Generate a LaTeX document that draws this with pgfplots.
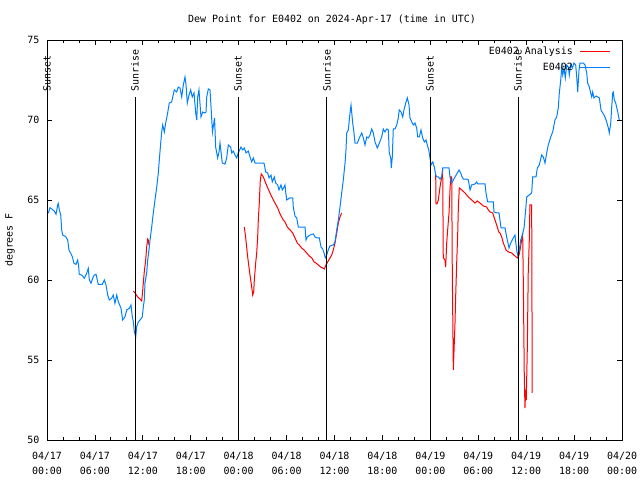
\documentclass[border=0pt]{standalone}
\usepackage{fontspec}
\setmainfont{DejaVu Sans Mono}
\usepackage{pgfplots}
\pgfplotsset{compat=1.18}
\definecolor{dpblue}{RGB}{0,128,255}
\begin{document}
\begin{tikzpicture}
\useasboundingbox (0,0) rectangle (640bp,480bp);
\begin{axis}[
  at={(47bp,40bp)}, anchor=south west,
  width=575bp, height=400bp, scale only axis,
  xmin=0, xmax=72, ymin=50, ymax=75,
  xtick={0,6,...,72},
  xticklabels={04/17\\00:00,04/17\\06:00,04/17\\12:00,04/17\\18:00,04/18\\00:00,04/18\\06:00,04/18\\12:00,04/18\\18:00,04/19\\00:00,04/19\\06:00,04/19\\12:00,04/19\\18:00,04/20\\00:00},
  minor x tick num=2,
  ytick={50,55,...,75},
  tick align=inside,
  major tick length=5bp, minor tick length=3bp,
  tick style={black, line width=0.8bp},
  axis line style={black, line width=0.8bp},
  /pgf/number format/assume math mode=true,
  tick label style={font=\fontsize{10}{15}\selectfont},
  xticklabel style={align=center, yshift=-9bp},
  yticklabel style={xshift=-4bp},
  ylabel={degrees F},
  ylabel style={at={(axis description cs:-0.0643,0.5)}, anchor=center, font=\fontsize{10}{12}\selectfont},
  title={Dew Point for E0402 on 2024-Apr-17 (time in UTC)},
  title style={at={(axis description cs:0.5,1)}, anchor=center, yshift=14bp, xshift=-2.5bp, font=\fontsize{10}{12}\selectfont},
  unbounded coords=jump,
  legend cell align=right,
  legend plot pos=right,
  legend image code/.code={\draw[mark repeat=2,mark phase=2,#1] plot coordinates {(0bp,0bp) (15bp,0bp) (30bp,0bp)};},
  legend style={at={(axis description cs:1,1)}, anchor=north east, xshift=-11bp, yshift=-5bp,
    draw=none, fill=none, inner sep=0pt, row sep=3bp,
    font=\fontsize{10}{12}\selectfont,
    /tikz/every odd column/.append style={column sep=5bp}},
  after end axis/.code={
    \begin{scope}[every node/.style={rotate=90, anchor=west, inner sep=0pt, font=\fontsize{10}{12}\selectfont}]
    \node at (axis cs:0,71.75) {Sunset};
    \node at (axis cs:11.02,71.75) {Sunrise};
    \node at (axis cs:23.92,71.75) {Sunset};
    \node at (axis cs:35.06,71.75) {Sunrise};
    \node at (axis cs:47.96,71.75) {Sunset};
    \node at (axis cs:58.98,71.75) {Sunrise};
    \end{scope}
  },
]
% E0402 Analysis (red)
\addplot[color=red, line width=1bp] coordinates {
(10.81,59.31) (11.02,59.19) (11.36,58.94) (11.65,58.81) (11.86,58.69) (11.93,59.06) (12.06,59.81) (12.18,60.50) (12.36,61.25) (12.48,62.06) (12.61,62.56) (12.68,62.50) (12.77,62.19)
(18,nan)
(24.71,63.31) (24.88,62.63) (25.01,62.00) (25.13,61.44) (25.29,60.81) (25.42,60.31) (25.63,59.56) (25.76,59.06) (25.88,59.25) (25.96,60.00) (26.13,61.06) (26.26,61.69) (26.38,62.69) (26.46,63.75) (26.58,64.81) (26.71,66.25) (26.83,66.63) (27.09,66.44) (27.39,66.06) (27.64,65.75) (27.92,65.44) (28.21,65.13) (28.55,64.81) (28.89,64.50) (29.18,64.13) (29.59,63.75) (29.80,63.63) (30.09,63.31) (30.43,63.13) (30.77,62.94) (31.05,62.63) (31.34,62.31) (31.59,62.19) (31.89,62.00) (32.18,61.88) (32.52,61.69) (32.85,61.50) (33.15,61.38) (33.43,61.13) (33.68,61.06) (33.97,60.94) (34.27,60.81) (34.52,60.75) (34.72,60.69) (34.94,60.94) (35.15,61.13) (35.44,61.38) (35.65,61.56) (35.85,61.88) (36.06,62.31) (36.28,62.94) (36.48,63.56) (36.69,63.94) (36.90,64.19)
(42,nan)
(48.67,66.63) (48.71,64.75) (48.83,64.75) (49.00,65.00) (49.21,65.81) (49.42,66.44) (49.55,66.69) (49.62,61.38) (49.83,61.25) (49.92,60.81) (50.05,62.31) (50.17,63.13) (50.34,64.19) (50.46,65.63) (50.55,66.44) (50.68,66.44) (50.75,60.44) (50.88,54.38) (51.00,56.06) (51.09,57.31) (51.17,58.94) (51.30,61.06) (51.43,62.94) (51.51,64.56) (51.63,65.75) (51.93,65.63) (52.34,65.44) (52.76,65.19) (53.18,65.00) (53.59,64.81) (53.88,64.94) (54.22,64.81) (54.63,64.63) (55.06,64.56) (55.26,64.38) (55.47,64.25) (55.81,64.19) (55.97,63.94) (56.22,63.56) (56.39,63.31) (56.56,63.00) (56.72,62.94) (56.94,62.69) (57.14,62.31) (57.48,61.88) (57.77,61.75) (58.19,61.69) (58.60,61.50) (58.89,61.38) (59.10,61.56) (59.23,61.88) (59.44,62.50) (59.56,62.94) (59.64,60.00) (59.76,54.19) (59.85,52.00) (59.94,53.13) (60.01,52.50) (60.14,55.63) (60.19,57.69) (60.26,60.44) (60.39,62.50) (60.47,64.69) (60.69,64.69) (60.76,52.94)
};
\addlegendentry{E0402 Analysis}
% E0402 (blue)
\addplot[color=dpblue, line width=1bp] coordinates {
(0.16,64.17) (0.38,64.52) (0.59,64.44) (0.91,64.31) (1.13,64.11) (1.34,64.69) (1.41,64.79) (1.54,64.38) (1.72,64.06) (1.84,63.13) (1.97,62.81) (2.34,62.71) (2.59,62.50) (2.75,61.88) (2.97,61.67) (3.17,61.46) (3.38,61.04) (3.63,60.98) (3.84,61.25) (3.97,60.83) (4.04,60.36) (4.35,60.31) (4.67,60.11) (4.97,60.42) (5.17,60.73) (5.30,60.00) (5.51,59.79) (5.72,60.11) (5.92,60.31) (6.14,60.36) (6.42,59.73) (6.92,59.73) (7.18,60.00) (7.39,59.69) (7.60,59.06) (7.80,58.75) (8.10,58.86) (8.30,59.06) (8.51,58.54) (8.73,59.06) (8.93,58.64) (9.27,58.23) (9.48,57.50) (9.77,57.71) (9.98,58.13) (10.31,58.23) (10.52,58.44) (10.68,57.71) (10.81,57.39) (10.93,56.77) (11.11,56.46) (11.23,57.08) (11.43,57.36) (11.65,57.50) (11.93,57.69) (12.06,58.31) (12.18,58.75) (12.27,59.81) (12.48,60.44) (12.61,61.25) (12.77,61.88) (12.90,62.50) (13.11,63.31) (13.31,64.19) (13.52,65.00) (13.74,65.81) (13.94,66.69) (14.06,67.50) (14.24,68.56) (14.36,69.25) (14.49,69.69) (14.69,69.25) (14.86,69.81) (15.11,70.44) (15.31,71.06) (15.61,71.13) (15.94,71.88) (16.24,71.75) (16.44,72.06) (16.65,72.00) (16.87,71.44) (17.07,72.19) (17.28,72.69) (17.41,72.19) (17.57,71.06) (17.78,71.56) (17.99,71.88) (18.19,71.44) (18.41,71.69) (18.62,70.44) (18.75,70.00) (18.87,71.44) (19.03,71.88) (19.28,70.19) (19.50,70.50) (19.78,70.44) (19.91,70.50) (20.00,71.44) (20.20,71.94) (20.41,71.88) (20.54,70.81) (20.72,69.25) (20.98,70.13) (21.12,68.31) (21.37,67.63) (21.54,68.00) (21.66,68.56) (21.95,67.31) (22.29,67.25) (22.50,67.63) (22.70,68.44) (23.00,68.31) (23.13,67.94) (23.33,68.06) (23.54,67.81) (23.75,67.63) (23.95,67.94) (24.29,68.31) (24.51,68.13) (24.71,68.25) (24.92,67.94) (25.21,68.06) (25.42,67.69) (25.63,67.38) (25.83,67.63) (26.05,67.31) (26.33,67.31) (26.67,67.31) (26.88,67.31) (27.17,67.31) (27.39,66.75) (27.64,66.69) (27.80,66.38) (28.05,66.56) (28.21,66.13) (28.46,66.44) (28.64,66.06) (28.89,65.94) (29.05,65.63) (29.30,65.94) (29.46,65.63) (29.68,65.81) (29.80,65.94) (29.89,65.50) (30.02,65.00) (30.43,65.13) (30.77,65.13) (30.84,64.56) (31.05,64.00) (31.27,63.88) (31.47,63.31) (32.31,63.31) (32.43,62.50) (32.59,62.69) (32.93,62.81) (33.35,62.88) (33.56,62.69) (33.77,62.63) (34.10,62.63) (34.31,62.06) (34.52,61.94) (34.69,61.69) (34.85,61.38) (35.02,61.56) (35.22,61.88) (35.44,62.13) (35.85,62.19) (36.06,62.38) (36.28,63.13) (36.48,63.75) (36.69,64.56) (36.90,65.44) (37.10,66.25) (37.32,67.31) (37.44,68.13) (37.53,69.19) (37.73,69.38) (37.94,70.44) (38.07,70.94) (38.15,70.50) (38.28,69.81) (38.44,69.19) (38.57,68.56) (38.86,68.56) (39.11,68.88) (39.41,69.19) (39.61,68.88) (39.82,68.44) (40.03,68.94) (40.23,68.88) (40.45,69.06) (40.66,69.44) (40.86,69.19) (41.07,68.63) (41.36,68.25) (41.61,68.56) (41.91,68.94) (42.11,69.44) (42.32,69.25) (42.54,69.44) (42.74,69.38) (42.86,67.94) (43.04,67.63) (43.11,67.00) (43.24,67.69) (43.36,69.44) (43.58,69.44) (43.79,69.69) (43.99,70.13) (44.11,70.63) (44.33,70.50) (44.54,70.19) (44.70,70.63) (44.92,71.06) (45.12,71.38) (45.33,70.94) (45.45,70.13) (45.67,69.88) (45.87,69.69) (46.08,69.81) (46.29,69.50) (46.42,68.94) (46.62,68.94) (46.83,69.38) (47.04,68.88) (47.25,68.63) (47.46,68.75) (47.62,68.44) (47.80,68.13) (47.96,67.63) (48.08,67.19) (48.30,67.38) (48.50,67.06) (48.67,66.56) (48.80,66.44) (49.00,66.44) (49.21,66.31) (49.42,66.44) (49.55,67.00) (50.05,67.00) (50.34,67.00) (50.46,66.44) (50.68,66.06) (50.88,66.25) (51.09,66.44) (51.38,66.69) (51.59,66.88) (51.80,66.69) (51.93,66.50) (52.13,66.31) (52.56,66.31) (52.76,66.25) (52.97,65.63) (53.18,65.94) (53.59,66.00) (53.81,66.13) (53.93,66.00) (54.85,66.00) (54.97,65.44) (55.18,64.88) (55.89,64.88) (55.97,64.25) (56.39,64.19) (56.60,64.19) (56.72,63.75) (56.85,63.25) (57.35,63.25) (57.56,62.69) (57.85,62.00) (58.06,62.31) (58.39,62.63) (58.60,62.81) (58.81,61.88) (58.94,61.56) (59.10,61.75) (59.32,62.50) (59.52,62.81) (59.73,63.25) (59.94,64.38) (60.07,65.19) (60.69,65.44) (60.82,66.44) (61.23,66.44) (61.40,67.00) (61.64,67.19) (61.94,67.81) (62.15,67.69) (62.36,67.31) (62.57,67.94) (62.77,68.44) (63.07,68.94) (63.32,69.25) (63.61,70.00) (63.82,70.19) (64.02,70.75) (64.15,71.69) (64.33,72.50) (64.45,73.31) (64.58,72.81) (64.74,73.25) (64.90,72.63) (65.08,73.44) (65.28,73.31) (65.40,72.81) (65.58,73.44) (65.78,73.25) (65.99,73.56) (66.20,73.44) (66.33,72.69) (66.45,71.75) (66.62,73.13) (66.74,73.56) (67.16,73.56) (67.37,73.44) (67.58,72.94) (67.70,72.31) (67.91,72.06) (68.08,71.69) (68.21,71.44) (68.33,71.75) (68.49,71.38) (68.75,71.50) (68.96,71.44) (69.16,71.38) (69.37,70.63) (69.58,70.44) (69.75,70.31) (69.91,70.13) (70.08,69.88) (70.29,69.50) (70.41,69.19) (70.59,69.81) (70.71,70.81) (70.84,71.69) (70.91,71.75) (71.04,71.25) (71.21,71.06) (71.41,70.63) (71.54,70.31) (71.66,70.00)
};
\addlegendentry{E0402}
% Sunrise / sunset markers
\addplot[black, line width=1bp, forget plot] coordinates {(11.02,50) (11.02,71.44)};
\addplot[black, line width=1bp, forget plot] coordinates {(23.92,50) (23.92,71.44)};
\addplot[black, line width=1bp, forget plot] coordinates {(35.06,50) (35.06,71.44)};
\addplot[black, line width=1bp, forget plot] coordinates {(47.96,50) (47.96,71.44)};
\addplot[black, line width=1bp, forget plot] coordinates {(58.98,50) (58.98,71.44)};
\end{axis}
\end{tikzpicture}
\end{document}
